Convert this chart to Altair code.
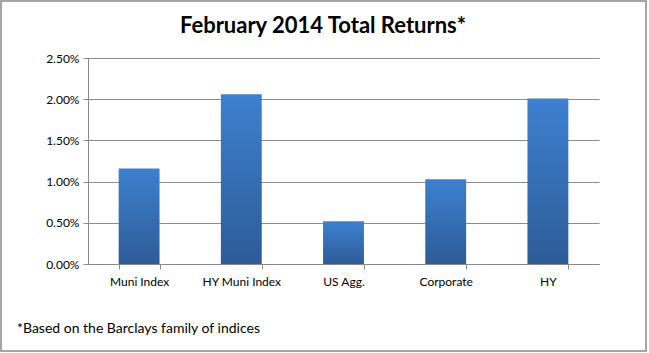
import altair as alt
import pandas as pd

categories = ["Muni Index", "HY Muni Index", "US Agg.", "Corporate", "HY"]
returns = [0.0116, 0.0206, 0.0052, 0.0103, 0.0201]
y_ticks = [0.0, 0.005, 0.01, 0.015, 0.02, 0.025]
title_text = ["February 2014 Total Returns*"]
footnote_text = ["*Based on the Barclays family of indices"]

df = pd.DataFrame({"category": categories, "value": returns})

grad = alt.Gradient(
    gradient="linear", x1=0, y1=0, x2=0, y2=1,
    stops=[alt.GradientStop(color="#3d80cf", offset=0),
           alt.GradientStop(color="#2d5c97", offset=1)],
)

bars = alt.Chart(df).mark_bar(color=grad).encode(
    x=alt.X("category:N", sort=categories, title=None,
            scale=alt.Scale(paddingInner=0.6, paddingOuter=0.3),
            axis=alt.Axis(labelAngle=0, tickBand="extent", ticks=True, tickSize=5,
                          tickColor="#888888", domainColor="#888888",
                          labelFont="Lato", labelFontSize=12, labelColor="#000000",
                          labelPadding=7, grid=False)),
    y=alt.Y("value:Q", title=None,
            scale=alt.Scale(domain=[0, 0.025]),
            axis=alt.Axis(values=y_ticks, format=".2%", tickSize=5,
                          tickColor="#888888", domainColor="#888888",
                          gridColor="#8c8c8c", grid=True,
                          labelFont="Lato", labelFontSize=12, labelColor="#000000",
                          labelPadding=4)),
)

title = alt.Chart(pd.DataFrame({"t": title_text})).mark_text(
    align="center", baseline="middle", font="Lato", fontSize=22, fontWeight="bold",
    color="#000000"
).encode(x=alt.value(235), y=alt.value(-32), text="t:N")

footnote = alt.Chart(pd.DataFrame({"t": footnote_text})).mark_text(
    align="left", baseline="middle", font="Lato", fontSize=14, color="#000000"
).encode(x=alt.value(-71), y=alt.value(271), text="t:N")

frame = alt.Chart(pd.DataFrame({"a": [1]})).mark_rect(
    fill=None, stroke="#a6a6a6", strokeWidth=2
).encode(x=alt.value(-87), x2=alt.value(558), y=alt.value(-57), y2=alt.value(293))

chart = alt.layer(bars, title, footnote, frame).properties(
    width=511, height=206,
    padding={"left": 88, "top": 58, "right": 50, "bottom": 89},
    autosize=alt.AutoSizeParams(type="none"),
    background="white",
).configure_view(stroke=None)

chart.save("out.html", embed_options={"renderer": "svg", "actions": False})
